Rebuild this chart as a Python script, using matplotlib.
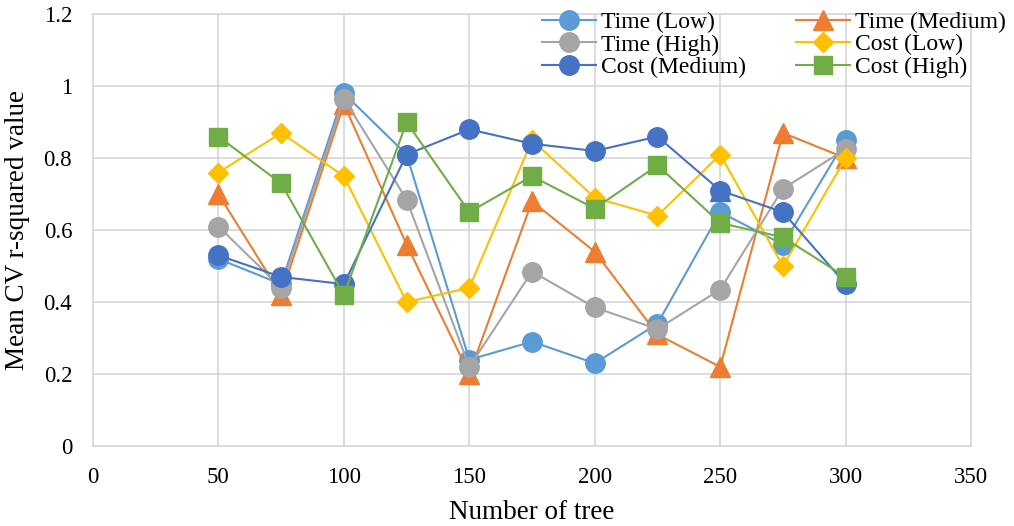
import numpy as np
import matplotlib.pyplot as plt
from matplotlib.ticker import FuncFormatter

plt.rcParams['font.family'] = ['Liberation Serif', 'DejaVu Serif']

trees = [50, 75, 100, 125, 150, 175, 200, 225, 250, 275, 300]

time_low = [0.52, 0.45, 0.98, 0.81, 0.24, 0.29, 0.23, 0.34, 0.65, 0.56, 0.85]
time_medium = [0.70, 0.42, 0.95, 0.56, 0.20, 0.68, 0.54, 0.31, 0.22, 0.87, 0.80]
time_high = [0.61, 0.44, 0.965, 0.685, 0.22, 0.485, 0.385, 0.325, 0.435, 0.715, 0.825]
cost_low = [0.76, 0.87, 0.75, 0.40, 0.44, 0.85, 0.69, 0.64, 0.81, 0.50, 0.80]
cost_medium = [0.53, 0.47, 0.45, 0.81, 0.88, 0.84, 0.82, 0.86, 0.71, 0.65, 0.45]
cost_high = [0.86, 0.73, 0.42, 0.90, 0.65, 0.75, 0.66, 0.78, 0.62, 0.58, 0.47]

series = [
    ("Time (Low)", time_low, "#5B9BD5", "o", 14),
    ("Time (Medium)", time_medium, "#ED7D31", "^", 14),
    ("Time (High)", time_high, "#A5A5A5", "o", 14),
    ("Cost (Low)", cost_low, "#FFC000", "D", 10.5),
    ("Cost (Medium)", cost_medium, "#4472C4", "o", 14),
    ("Cost (High)", cost_high, "#70AD47", "s", 12.5),
]

fig = plt.figure(figsize=(10.14, 5.26), dpi=100)
ax = fig.add_axes([0.0917, 0.152, 0.866, 0.821])

lines = {}
for name, vals, col, mk, ms in series:
    ln, = ax.plot(trees, vals, color=col, marker=mk, markersize=ms, lw=1.5,
                  label=name)
    lines[name] = ln

# odd point on the Cost (Medium) series drawn as a triangle
i = trees.index(250)
ax.plot(trees[i], cost_medium[i], marker="^", color="#4472C4", markersize=14,
        ls="none", zorder=ln.get_zorder() + 0.1)

ax.set_xlim(0, 350)
ax.set_ylim(0, 1.2)
ax.set_xticks(np.arange(0, 351, 50))
ax.set_yticks(np.arange(0, 1.21, 0.2))
ax.yaxis.set_major_formatter(FuncFormatter(lambda v, p: f"{round(v, 1):g}"))
ax.grid(True, color="#D9D9D9", lw=1.3)
ax.set_axisbelow(True)
for s in ax.spines.values():
    s.set_color("#D9D9D9")
    s.set_linewidth(1.3)
ax.tick_params(length=0, labelsize=16.5)
ax.tick_params(axis="x", pad=15)
ax.tick_params(axis="y", pad=15)
ax.set_xlabel("Number of tree", fontsize=19.5, labelpad=9)
ax.set_ylabel("Mean CV r-squared value", fontsize=19.5, labelpad=10)

order = ["Time (Low)", "Time (High)", "Cost (Medium)",
         "Time (Medium)", "Cost (Low)", "Cost (High)"]
ax.legend([lines[n] for n in order], order, ncol=2, loc="upper right",
          bbox_to_anchor=(1.008, 1.01), bbox_transform=fig.transFigure,
          frameon=False, fontsize=17, handlelength=2.3, handletextpad=0.2,
          columnspacing=2.1, labelspacing=0.05, borderaxespad=0.3)

fig.savefig("out.png", dpi=100)
